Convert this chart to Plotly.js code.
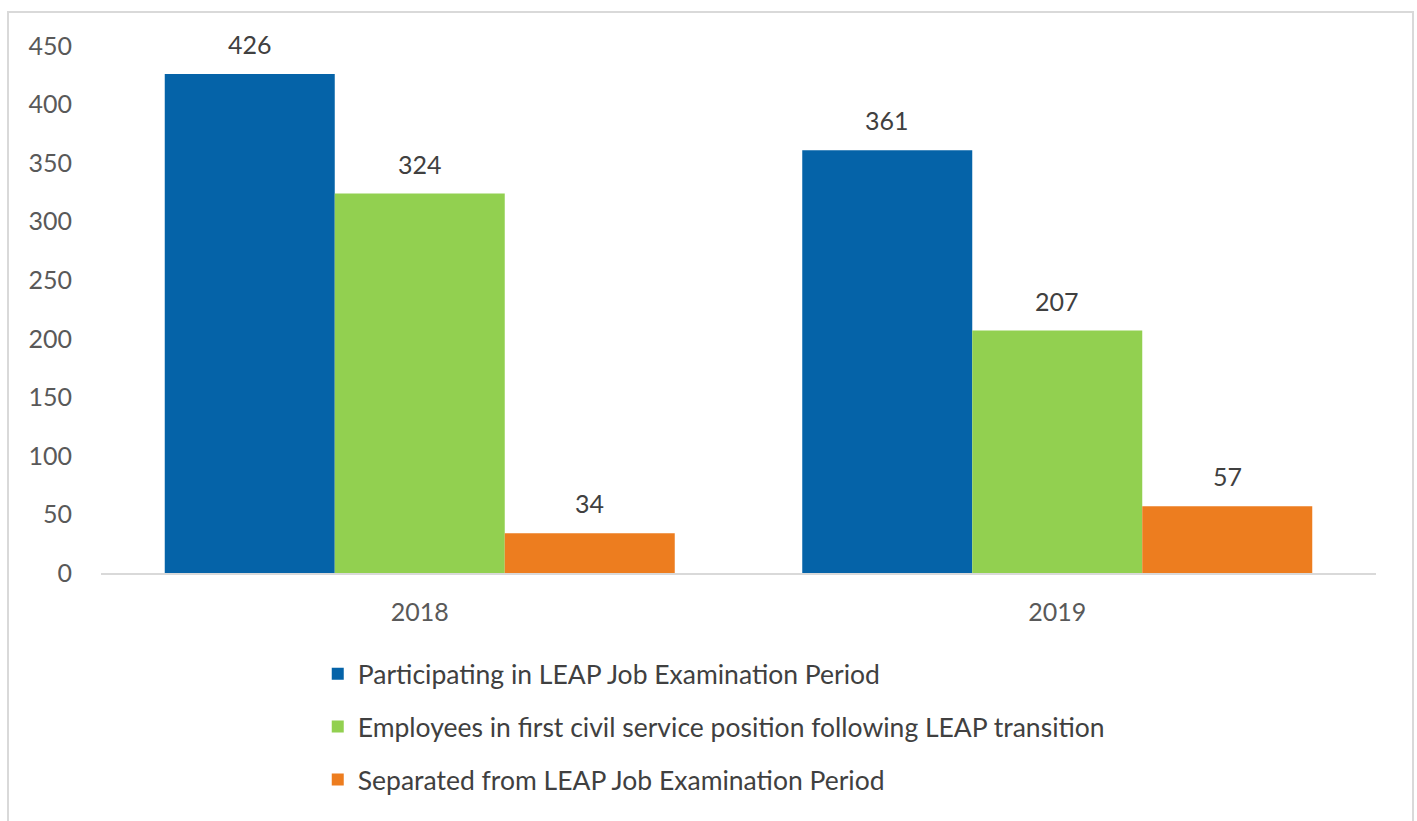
<!DOCTYPE html>
<html>
<head>
<meta charset="utf-8">
<script src="https://cdn.plot.ly/plotly-3.0.1.min.js"></script>
<style>
  html, body { margin: 0; padding: 0; background: #fff; }
  #frame {
    position: absolute; left: 7px; top: 11px; width: 1403px; height: 830px;
    border: 2px solid #d9d9d9; border-bottom: none;
  }
  #chart { position: absolute; left: 0; top: 0; width: 1417px; height: 821px; }
</style>
</head>
<body>
<div id="frame"></div>
<div id="chart"></div>
<script>
/* ---- Data ---- */
const years = ['2018', '2019'];
const seriesNames = [
  'Participating in LEAP Job Examination Period',
  'Employees in first civil service position following LEAP transition',
  'Separated from LEAP Job Examination Period',
];
const participating = [426, 361];
const employees = [324, 207];
const separated = [34, 57];

const COLORS = ['#0563a8', '#92d050', '#ed7d1f'];
const FONT = 'Lato, "Open Sans", sans-serif';
const BAR_PX = 170; // pixel width of one bar, used to place value labels over grouped bars

const series = [participating, employees, separated];

const traces = series.map((vals, i) => ({
  x: years,
  y: vals,
  type: 'bar',
  name: seriesNames[i],
  legendgroup: 'g' + i,
  marker: { color: COLORS[i] },
  hoverinfo: 'skip',
}));

// value labels above each bar (category axis -> serial index)
const annotations = [];
series.forEach((vals, i) => {
  vals.forEach((v, j) => {
    annotations.push({
      x: j, y: v, xref: 'x', yref: 'y',
      text: String(v), showarrow: false,
      xanchor: 'center', yanchor: 'bottom',
      xshift: (i - 1) * BAR_PX, yshift: 13,
      font: { family: FONT, size: 25, color: '#404040' },
    });
  });
});

const layout = {
  paper_bgcolor: 'rgba(0,0,0,0)',
  plot_bgcolor: 'rgba(0,0,0,0)',
  font: { family: FONT, size: 25, color: '#595959' },
  width: 1417,
  height: 821,
  margin: { l: 101, r: 41, t: 46, b: 248 },
  barmode: 'group',
  bargap: 0.2,
  bargroupgap: 0,
  showlegend: true,
  annotations,
  xaxis: {
    type: 'category',
    range: [-0.5, 1.5],
    showline: true, linecolor: '#d9d9d9', linewidth: 2,
    ticks: '', showgrid: false, zeroline: false,
    tickfont: { family: FONT, size: 25, color: '#595959' },
    ticklabelstandoff: 16,
  },
  yaxis: {
    range: [0, 450],
    tickvals: [0, 50, 100, 150, 200, 250, 300, 350, 400, 450],
    showgrid: false, zeroline: false, showline: false,
    ticks: '',
    tickfont: { family: FONT, size: 25, color: '#595959' },
    ticklabelstandoff: 28,
  },
  legend: {
    orientation: 'v',
    x: 0.170, xanchor: 'left',
    y: -0.146, yanchor: 'top',
    traceorder: 'grouped',
    tracegroupgap: 15.5,
    font: { family: FONT, size: 26.5, color: '#404040' },
    bgcolor: 'rgba(0,0,0,0)',
  },
};

Plotly.newPlot('chart', traces, layout, { displayModeBar: false, responsive: false });
</script>
</body>
</html>
